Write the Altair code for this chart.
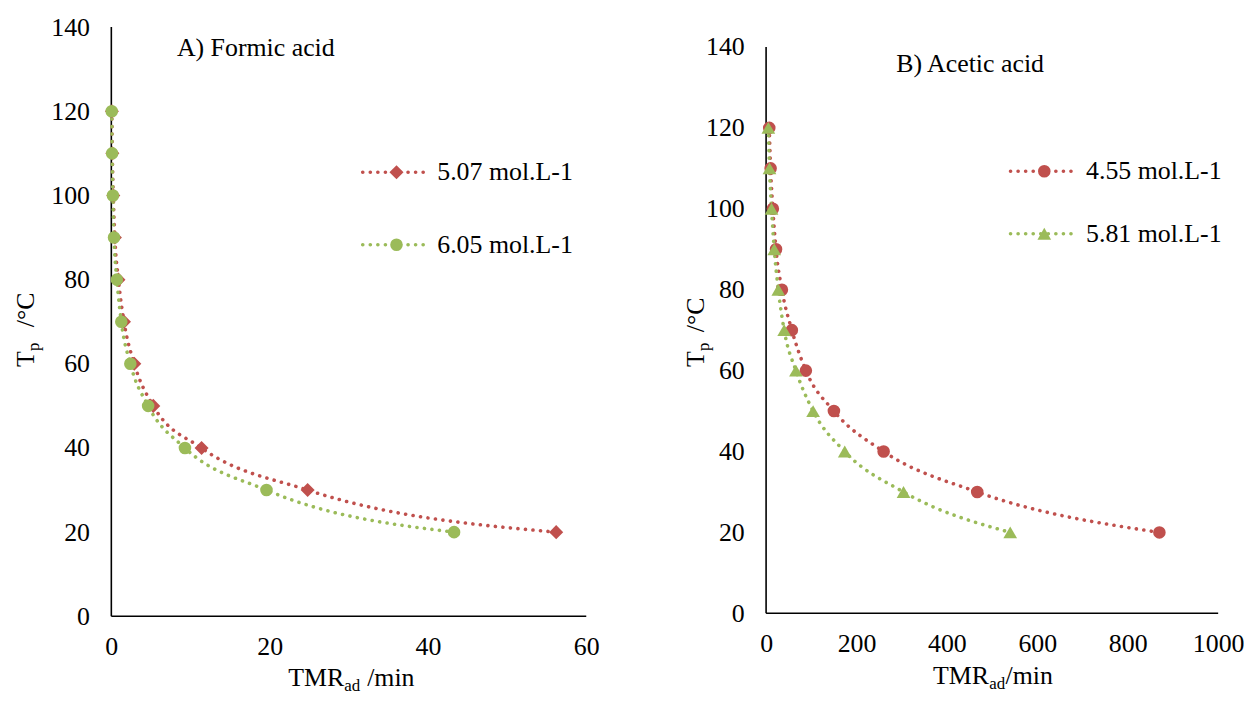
import altair as alt
import pandas as pd

# ---------------- data ----------------
temps = [120, 110, 100, 90, 80, 70, 60, 50, 40, 30, 20]

formic_series = ["5.07 mol.L-1", "6.05 mol.L-1"]
formic_507 = [0.07, 0.13, 0.25, 0.45, 0.9, 1.6, 2.9, 5.3, 11.4, 24.8, 56.2]
formic_605 = [0.05, 0.1, 0.2, 0.34, 0.7, 1.26, 2.4, 4.65, 9.3, 19.6, 43.3]

acetic_series = ["4.55 mol.L-1", "5.81 mol.L-1"]
acetic_455 = [7, 10, 15, 22, 35, 57, 88, 150, 260, 467, 870]
acetic_581 = [5, 7.5, 12, 18, 27, 40, 66, 104, 174, 304, 540]

y_ticks = [0, 20, 40, 60, 80, 100, 120, 140]
xa_ticks = [0, 20, 40, 60]
xb_ticks = [0, 200, 400, 600, 800, 1000]

RED = "#C0504D"
GREEN = "#9BBB59"
FONT = "Liberation Serif"
FS = 26


def one():
    return pd.DataFrame({"a": [0]})


def frame(series_names, values_list):
    rows = []
    for name, vals in zip(series_names, values_list):
        for t, v in zip(temps, vals):
            rows.append({"series": name, "TMR": v, "T": t})
    return pd.DataFrame(rows)


def panel(df, series_names, shapes, sizes, xdomain, xticks, W, H, ytop, title,
          title_pos, legend_pos, xtitle_pos, ytitle_pos):
    x = alt.X("TMR:Q", scale=alt.Scale(domain=xdomain, nice=False),
              axis=alt.Axis(values=xticks, title=None, labelPadding=17, format="d",
                            labelFlush=False, domain=False))
    y = alt.Y("T:Q", scale=alt.Scale(domain=[0, ytop], nice=False, zero=True),
              axis=alt.Axis(values=y_ticks, title=None, labelPadding=22, domain=False,
                            labelFlush=False))

    layers = []
    # axis lines: y from 0 to 140 only, x along the bottom
    layers.append(alt.Chart(one()).mark_rule(color="black", strokeWidth=1.6).encode(
        x=alt.value(0),
        y=alt.datum(0, type="quantitative", scale=alt.Scale(domain=[0, ytop], nice=False)),
        y2=alt.datum(140)))
    layers.append(alt.Chart(one()).mark_rule(color="black", strokeWidth=1.6).encode(
        x=alt.value(0), x2=alt.value(W), y=alt.value(H)))

    for i, name in enumerate(series_names):
        c = [RED, GREEN][i]
        sub = df[df["series"] == name]
        layers.append(alt.Chart(sub).mark_line(
            interpolate="monotone", strokeDash=[0.1, 7.5], strokeWidth=3.6,
            strokeCap="round", color=c).encode(x=x, y=y))
    for i, name in enumerate(series_names):
        c = [RED, GREEN][i]
        sub = df[df["series"] == name]
        layers.append(alt.Chart(sub).mark_point(
            filled=True, opacity=1, size=sizes[i], color=c, shape=shapes[i]).encode(x=x, y=y))

    # legend (custom, drawn inside plot)
    lx0, lx1, lmx, ltx, ly = legend_pos
    for i, name in enumerate(series_names):
        c = [RED, GREEN][i]
        yy = ly[i]
        layers.append(alt.Chart(one()).mark_rule(
            color=c, strokeDash=[0.1, 7.5], strokeWidth=3.6, strokeCap="round").encode(
            x=alt.value(lx0), x2=alt.value(lx1), y=alt.value(yy)))
        layers.append(alt.Chart(one()).mark_point(
            filled=True, opacity=1, size=sizes[i], color=c, shape=shapes[i]).encode(
            x=alt.value(lmx), y=alt.value(yy)))
        layers.append(alt.Chart(one()).mark_text(
            text=name, align="left", baseline="middle", font=FONT, fontSize=FS, color="black").encode(
            x=alt.value(ltx), y=alt.value(yy)))

    # panel title
    layers.append(alt.Chart(one()).mark_text(
        text=title, align="left", baseline="middle", font=FONT, fontSize=FS, color="black").encode(
        x=alt.value(title_pos[0]), y=alt.value(title_pos[1])))

    # x axis title: TMR_ad /min
    tx, ty, gap = xtitle_pos
    layers.append(alt.Chart(one()).mark_text(
        text="TMR", align="left", baseline="middle", font=FONT, fontSize=FS, color="black").encode(
        x=alt.value(tx), y=alt.value(H + ty)))
    layers.append(alt.Chart(one()).mark_text(
        text="ad", align="left", baseline="middle", font=FONT, fontSize=17, color="black").encode(
        x=alt.value(tx + 56.5), y=alt.value(H + ty + 8)))
    layers.append(alt.Chart(one()).mark_text(
        text="/min", align="left", baseline="middle", font=FONT, fontSize=FS, color="black").encode(
        x=alt.value(tx + 73 + gap), y=alt.value(H + ty)))

    # y axis title: T_p /°C (rotated)
    yx, yT, yP, yC = ytitle_pos
    layers.append(alt.Chart(one()).mark_text(
        text="T", align="left", baseline="middle", angle=270, font=FONT, fontSize=FS, color="black").encode(
        x=alt.value(yx), y=alt.value(yT)))
    layers.append(alt.Chart(one()).mark_text(
        text="p", align="left", baseline="middle", angle=270, font=FONT, fontSize=17, color="black").encode(
        x=alt.value(yx + 8), y=alt.value(yP)))
    layers.append(alt.Chart(one()).mark_text(
        text="/°C", align="left", baseline="middle", angle=270, font=FONT, fontSize=FS, color="black").encode(
        x=alt.value(yx), y=alt.value(yC)))

    return alt.layer(*layers).properties(width=W, height=H)


dfA = frame(formic_series, [formic_507, formic_605])
dfB = frame(acetic_series, [acetic_455, acetic_581])

# panel A: plot top at 140, height 593
chartA = panel(dfA, formic_series, ["diamond", "circle"], [200, 160], [0, 60], xa_ticks, 478, 593, 140,
               "A) Formic acid", (66, 21), (253, 321, 287, 328, [146, 219]),
               (178, 62, 6.5), (-86, 342, 326, 302))
# panel B: axis top (140) sits 20px lower than panel A's; plot area spans same rows
HB = 590
ytopB = 140 * HB / 570
chartB = panel(dfB, acetic_series, ["circle", "triangle-up"], [160, 190], [0, 1000], xb_ticks, 455, HB, ytopB,
               "B) Acetic acid", (131, 37), (246, 314, 280, 322, [145, 208]),
               (168, 63, 0), (-70, 342, 326, 307))

chart = alt.hconcat(chartA, chartB, spacing=85).properties(
    padding={"left": 5, "top": 4, "right": 0, "bottom": 5}
).configure(background="white").configure_view(stroke=None).configure_axis(
    grid=False, ticks=False, domainColor="black", domainWidth=1.6,
    labelFont=FONT, labelFontSize=FS, labelColor="black"
)

chart.save("out.html", embed_options={"renderer": "svg", "actions": False})
